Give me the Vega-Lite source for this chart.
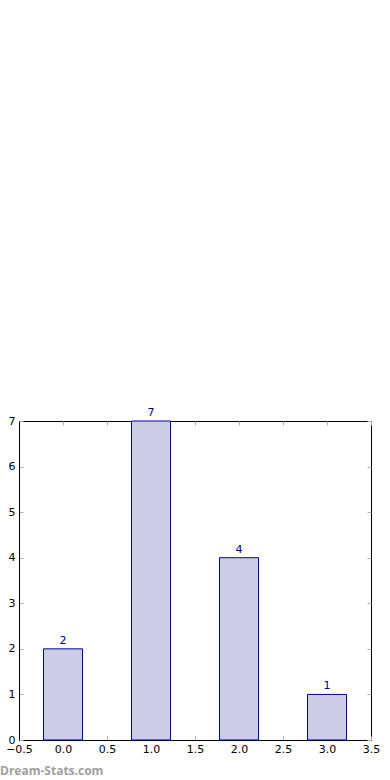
{
  "$schema": "https://vega.github.io/schema/vega-lite/v6.json",
  "width": 352,
  "height": 319,
  "autosize": "none",
  "padding": {"left": 19, "top": 421, "right": 19, "bottom": 40},
  "background": "white",
  "config": {
    "view": {"stroke": "black", "strokeWidth": 1},
    "font": "DejaVu Sans",
    "axis": {
      "domainColor": "black",
      "tickColor": "#b0b0b0",
      "tickSize": -4,
      "grid": false,
      "labelColor": "black",
      "labelFontSize": 11,
      "labelFont": "DejaVu Sans",
      "title": null
    }
  },
  "title": {
    "text": "Dream-Stats.com",
    "orient": "bottom",
    "anchor": "start",
    "frame": "group",
    "dx": -19,
    "offset": 12,
    "fontSize": 12,
    "fontWeight": "bold",
    "color": "#a0a0a0",
    "font": "Open Sans"
  },
  "data": {"values": [
    {"x": 0, "n": 2},
    {"x": 1, "n": 7},
    {"x": 2, "n": 4},
    {"x": 3, "n": 1}
  ]},
  "resolve": {"axis": {"x": "independent", "y": "independent"}},
  "layer": [
    {
      "mark": {"type": "bar", "size": 39, "fill": "#ccccE6", "stroke": "#0000a0", "strokeWidth": 1},
      "encoding": {
        "x": {"field": "x", "type": "quantitative",
          "scale": {"domain": [-0.5, 3.5], "nice": false, "zero": false, "padding": 0},
          "axis": {"values": [-0.5, 0, 0.5, 1, 1.5, 2, 2.5, 3, 3.5], "format": ".1f", "labelPadding": 7, "labelFlush": false}},
        "y": {"field": "n", "type": "quantitative",
          "scale": {"domain": [0, 7], "nice": false, "padding": 0},
          "axis": {"values": [0, 1, 2, 3, 4, 5, 6, 7], "format": "d", "labelPadding": 8}}
      }
    },
    {
      "mark": {"type": "text", "dy": -8, "fontSize": 11, "color": "#000080", "font": "DejaVu Sans"},
      "encoding": {
        "x": {"field": "x", "type": "quantitative",
          "axis": {"orient": "top", "values": [-0.5, 0, 0.5, 1, 1.5, 2, 2.5, 3, 3.5], "labels": false, "domain": false}},
        "y": {"field": "n", "type": "quantitative",
          "axis": {"orient": "right", "values": [0, 1, 2, 3, 4, 5, 6, 7], "labels": false, "domain": false}},
        "text": {"field": "n", "type": "quantitative"}
      }
    }
  ]
}
